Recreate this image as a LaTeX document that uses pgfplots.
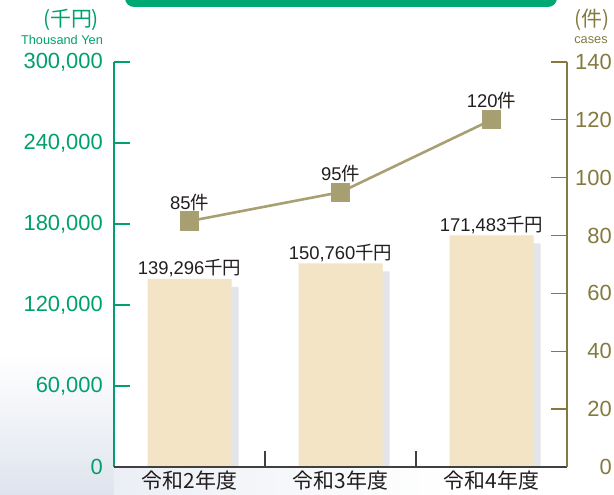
\documentclass[border=0pt]{standalone}
\usepackage{pgfplots}
\usepackage{pgfplotstable}
\pgfplotsset{compat=1.18}
\usepackage{fontspec}
\setmainfont{Liberation Sans}
\newfontfamily\cjk{Noto Sans CJK JP}
\definecolor{greenT}{RGB}{0,160,110}
\definecolor{oliveT}{RGB}{132,122,64}
\definecolor{lineC}{RGB}{168,160,114}
\definecolor{markC}{RGB}{166,159,112}
\definecolor{barC}{RGB}{242,228,197}
\definecolor{shadowC}{RGB}{228,229,232}
\definecolor{bannerC}{RGB}{0,168,115}
\definecolor{txt}{RGB}{35,30,30}
\definecolor{bgC}{RGB}{222,228,238}

\pgfplotstableread{
x y lab
0 139296 139,296
1 150760 150,760
2 171483 171,483
}\bars
\pgfplotstableread{
x y lab
0 85 85
1 95 95
2 120 120
}\cases

\begin{document}
\begin{tikzpicture}[x=1bp,y=1bp]
\useasboundingbox (0,0) rectangle (614,495);
% background
\shade[top color=white, bottom color=bgC] (0,0) rectangle (114,140);
\shade[left color=bgC!60, right color=white] (114,0) rectangle (450,28);
\fill[white] (114,28) rectangle (567,433);
% banner
\fill[bannerC, rounded corners=9bp] (125,488) rectangle (557,520);
% axis titles
\node[text=greenT, font=\cjk\fontsize{21}{22}\selectfont] at (71,475) {(千円)};
\node[text=greenT, font=\fontsize{12.8}{13}\selectfont] at (62,455) {Thousand Yen};
\node[text=oliveT, font=\cjk\fontsize{21}{22}\selectfont] at (592,475) {(件)};
\node[text=oliveT, font=\fontsize{12.8}{13}\selectfont] at (591,455) {cases};

\begin{axis}[
  at={(114bp,28bp)}, anchor=south west, scale only axis,
  width=453bp, height=405bp,
  xmin=-0.5, xmax=2.5, ymin=0, ymax=300000,
  axis x line*=bottom, axis y line*=left,
  x axis line style={-, draw=black!75, line width=1.3bp},
  y axis line style={-, draw=greenT, line width=1.6bp},
  tick align=inside, major tick length=16bp,
  xtick={0,1,2},
  xticklabels={令和2年度,令和3年度,令和4年度},
  xtick style={draw=none},
  xticklabel style={font=\cjk\fontsize{21}{22}\selectfont, text=txt, inner sep=0pt, yshift=-4bp},
  ytick={0,60000,120000,180000,240000,300000},
  scaled y ticks=false,
  ytick style={draw=greenT, line width=1.3bp},
  yticklabel style={font=\fontsize{22}{24}\selectfont, text=greenT, inner sep=0pt, xshift=-11bp,
    /pgf/number format/fixed, /pgf/number format/1000 sep={,}, /pgf/number format/assume math mode=true},
]
\addplot[ybar, bar width=84bp, bar shift=7bp, fill=shadowC, draw=none, yshift=-8bp]
  table[x=x, y=y] {\bars};
\addplot[ybar, bar width=84bp, bar shift=0bp, fill=barC, draw=none,
  point meta=explicit symbolic,
  nodes near coords={\pgfplotspointmeta{\cjk 千円}},
  every node near coord/.append style={anchor=base, inner sep=0pt, yshift=4bp, text=txt,
    font=\fontsize{18.5}{19}\selectfont}]
  table[x=x, y=y, meta=lab] {\bars};
\end{axis}

\begin{axis}[
  at={(114bp,28bp)}, anchor=south west, scale only axis,
  width=453bp, height=405bp,
  xmin=-0.5, xmax=2.5, ymin=0, ymax=140,
  axis x line*=bottom, axis y line*=right,
  x axis line style={-, draw=black!75, line width=1.3bp},
  y axis line style={-, draw=oliveT, line width=1.6bp},
  tick align=inside, major tick length=16bp,
  xtick={0.5,1.5}, xticklabels={},
  xtick style={draw=black!75, line width=1.2bp},
  ytick={0,20,40,60,80,100,120,140},
  ytick style={draw=oliveT, line width=1.3bp},
  yticklabel style={font=\fontsize{22}{24}\selectfont, text=oliveT, anchor=east, inner sep=0pt, xshift=45bp,
    /pgf/number format/fixed, /pgf/number format/assume math mode=true},
]
\addplot[lineC, line width=2.6bp, mark=square*, mark size=8.3bp,
  mark options={fill=markC, draw=none},
  point meta=explicit symbolic,
  nodes near coords={\pgfplotspointmeta{\cjk 件}},
  every node near coord/.append style={anchor=base, inner sep=0pt, yshift=12bp, text=txt,
    font=\fontsize{18.5}{19}\selectfont}]
  table[x=x, y=y, meta=lab] {\cases};
\end{axis}
\end{tikzpicture}
\end{document}
